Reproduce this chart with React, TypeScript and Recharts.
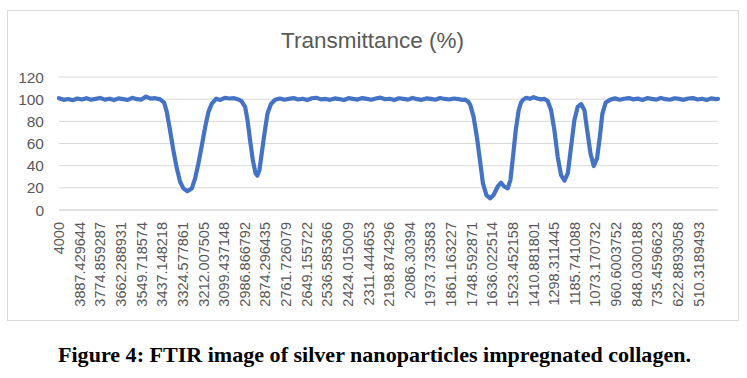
import React from "react";
import { LineChart, Line, XAxis, YAxis, CartesianGrid } from "recharts";

// wavenumber (cm-1)
const wavenumbers = [
  4000, 3975, 3950, 3925, 3900, 3875, 3850, 3825, 3800, 3775, 3750, 3725, 3700, 3675, 3650, 3625, 3600, 3575, 3550, 3525, 3500, 3475, 3448,
  3426, 3412, 3394, 3376, 3357, 3339, 3321, 3299, 3275, 3257, 3239, 3220, 3202, 3184, 3166, 3142, 3120, 3095, 3070, 3045, 3020, 3005,
  2984, 2971, 2957, 2942, 2927, 2917, 2906, 2891, 2876, 2862, 2843, 2820,
  2795, 2770, 2745, 2720, 2695, 2670, 2645, 2620, 2595, 2570, 2545, 2520, 2495, 2470, 2445, 2420, 2395, 2370, 2345, 2320, 2295, 2270, 2245, 2220,
  2195, 2170, 2145, 2120, 2095, 2070, 2045, 2020, 1995, 1970, 1945, 1920, 1895, 1870, 1845, 1820, 1800, 1782,
  1765, 1755, 1737, 1718, 1700, 1686, 1667, 1646, 1628, 1606, 1587, 1569, 1551, 1536, 1522, 1507, 1491, 1478, 1467,
  1450, 1430, 1410, 1390, 1370, 1350, 1333,
  1314, 1296, 1278, 1260, 1241, 1223, 1205, 1187, 1169, 1150, 1132, 1117, 1099, 1081, 1063, 1048, 1034, 1016, 990,
  965, 940, 915, 890, 865, 840, 815, 790, 765, 740, 715, 690, 665, 640, 615, 590, 565, 540, 515, 490, 465, 440, 415, 403,
];

const transmittance = [
  100.8, 99.4, 100.2, 99.1, 100.6, 99.7, 100.9, 99.5, 100.3, 101.1, 99.6, 100.4, 99.2, 100.7, 100.1, 99.4, 101.2, 100.0, 99.6, 102.3, 100.5, 100.9, 99.8,
  96.8, 88.7, 72, 54, 37.6, 25.5, 19.5, 17, 19.5, 28.6, 42, 58.6, 75, 88.7, 96, 100.4, 99.3, 101.2, 100.6, 100.9, 99.6, 98.5,
  93, 81, 63, 45, 33, 31, 36, 54, 72, 87, 95.6, 99.4,
  100.6, 99.5, 100.3, 101.0, 99.7, 100.4, 99.2, 100.8, 101.3, 99.8, 100.2, 99.4, 100.7, 100.1, 99.3, 100.9, 100.2, 99.6, 101.0, 100.3, 99.5, 100.6, 101.4, 99.9,
  100.4, 99.3, 100.8, 100.2, 99.6, 101.1, 100.0, 99.4, 100.7, 100.3, 99.5, 101.0, 100.2, 99.7, 100.6, 100.1, 99.4, 99.5,
  97.5, 94.7, 84, 64.7, 42, 24, 13.5, 10.5, 13.5, 21, 24.6, 21, 19.5, 27, 48, 72, 90, 97, 99.5,
  101.2, 100.3, 101.8, 100.6, 99.8, 100.2, 98.5,
  90, 72, 48, 31.6, 26.5, 33, 57, 81, 93, 95.6, 90, 72, 51, 39.7, 46.6, 66, 87, 97, 99.6,
  100.7, 99.5, 100.4, 101.0, 99.8, 100.5, 99.3, 100.9, 100.2, 99.6, 101.1, 100.0, 99.5, 100.8, 100.3, 99.4, 100.6, 101.0, 99.7, 100.4, 99.2, 100.7, 100.1, 100.3,
];

const tickLabels = [
  "4000", "3887.429644", "3774.859287", "3662.288931", "3549.718574", "3437.148218", "3324.577861", "3212.007505",
  "3099.437148", "2986.866792", "2874.296435", "2761.726079", "2649.155722", "2536.585366", "2424.015009", "2311.444653",
  "2198.874296", "2086.30394", "1973.733583", "1861.163227", "1748.592871", "1636.022514", "1523.452158", "1410.881801",
  "1298.311445", "1185.741088", "1073.170732", "960.6003752", "848.0300188", "735.4596623", "622.8893058", "510.3189493",
];

const yTicks = [0, 20, 40, 60, 80, 100, 120];

const data = wavenumbers.map((w, i) => ({ w, t: transmittance[i] }));
const xTicks = tickLabels.map(Number);

const FONT = "'Liberation Sans', Arial, sans-serif";
const GREY = "#595959";

const XTick = (props: any) => {
  const { x, y, index } = props;
  return (
    <g transform={`translate(${x},${y})`}>
      <text transform="rotate(-90)" x={0} y={0} dy="0.36em" textAnchor="end" fill={GREY} fontSize={14.5} fontFamily={FONT}>
        {tickLabels[index]}
      </text>
    </g>
  );
};

export default function App() {
  return (
    <div style={{ position: "absolute", left: 0, top: 0, width: 747, height: 378, background: "#fff" }}>
      <div style={{ position: "absolute", left: 7, top: 10 }}>
        <LineChart width={731} height={310} data={data} margin={{ top: 67, right: 20, left: 0, bottom: 0 }}>
          <CartesianGrid vertical={false} stroke="#d9d9d9" strokeDasharray="" />
          <XAxis
            dataKey="w"
            type="number"
            domain={[403, 4000]}
            reversed
            ticks={xTicks}
            interval={0}
            height={110}
            tickSize={0}
            tickMargin={12}
            axisLine={{ stroke: "#d9d9d9" }}
            tickLine={false}
            tick={<XTick />}
          />
          <YAxis
            domain={[0, 120]}
            ticks={yTicks}
            interval={0}
            width={52}
            tickSize={0}
            tickMargin={15}
            axisLine={false}
            tickLine={false}
            tick={{ fill: GREY, fontSize: 15.5, fontFamily: FONT }}
          />
          <Line
            type="linear"
            dataKey="t"
            stroke="#4472C4"
            strokeWidth={4.2}
            dot={false}
            strokeLinejoin="round"
            strokeLinecap="round"
            isAnimationActive={false}
          />
        </LineChart>
      </div>
      <svg width={747} height={378} style={{ position: "absolute", left: 0, top: 0, pointerEvents: "none" }}>
        <rect x={7.5} y={10.5} width={731} height={310} fill="none" stroke="#d9d9d9" />
        <text x={372.5} y={48} textAnchor="middle" fill={GREY} fontSize={22.5} fontFamily={FONT}>
          Transmittance (%)
        </text>
        <text
          x={58}
          y={362}
          fontSize={22}
          fontWeight="bold"
          fontFamily="'Liberation Serif', 'Times New Roman', serif"
          fill="#000"
          textLength={633}
          lengthAdjust="spacingAndGlyphs"
        >
          Figure 4: FTIR image of silver nanoparticles impregnated collagen.
        </text>
      </svg>
    </div>
  );
}
